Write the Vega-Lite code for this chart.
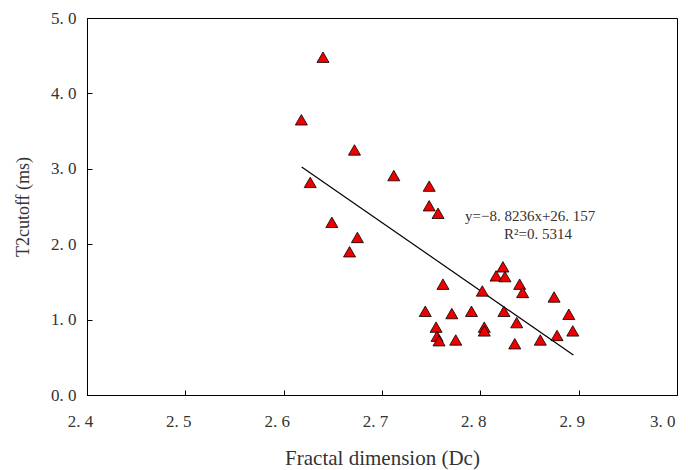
{
  "$schema": "https://vega.github.io/schema/vega-lite/v6.json",
  "width": 590,
  "height": 377,
  "autosize": {"type": "none"},
  "padding": {"left": 87, "top": 18, "right": 13, "bottom": 75},
  "background": "white",
  "config": {
    "view": {"stroke": "#000", "strokeWidth": 1},
    "font": "Liberation Serif",
    "axis": {
      "grid": false,
      "domainColor": "#000",
      "tickColor": "#000",
      "labelFont": "Liberation Serif",
      "titleFont": "Liberation Serif",
      "labelColor": "#333",
      "titleColor": "#333",
      "labelFontSize": 17,
      "titleFontSize": 18,
      "titleFontWeight": "normal"
    }
  },
  "datasets": {
    "pts": [
      {"dc": 2.640, "t2": 4.48},
      {"dc": 2.618, "t2": 3.65},
      {"dc": 2.672, "t2": 3.25},
      {"dc": 2.627, "t2": 2.82},
      {"dc": 2.712, "t2": 2.91},
      {"dc": 2.748, "t2": 2.77},
      {"dc": 2.748, "t2": 2.51},
      {"dc": 2.757, "t2": 2.41},
      {"dc": 2.649, "t2": 2.29},
      {"dc": 2.675, "t2": 2.09},
      {"dc": 2.667, "t2": 1.90},
      {"dc": 2.762, "t2": 1.47},
      {"dc": 2.823, "t2": 1.70},
      {"dc": 2.816, "t2": 1.58},
      {"dc": 2.825, "t2": 1.57},
      {"dc": 2.840, "t2": 1.47},
      {"dc": 2.843, "t2": 1.36},
      {"dc": 2.802, "t2": 1.38},
      {"dc": 2.875, "t2": 1.30},
      {"dc": 2.744, "t2": 1.11},
      {"dc": 2.771, "t2": 1.08},
      {"dc": 2.791, "t2": 1.11},
      {"dc": 2.824, "t2": 1.11},
      {"dc": 2.890, "t2": 1.07},
      {"dc": 2.837, "t2": 0.96},
      {"dc": 2.755, "t2": 0.90},
      {"dc": 2.804, "t2": 0.90},
      {"dc": 2.804, "t2": 0.85},
      {"dc": 2.894, "t2": 0.85},
      {"dc": 2.756, "t2": 0.78},
      {"dc": 2.758, "t2": 0.72},
      {"dc": 2.775, "t2": 0.73},
      {"dc": 2.835, "t2": 0.68},
      {"dc": 2.861, "t2": 0.73},
      {"dc": 2.878, "t2": 0.79}
    ],
    "fit": [
      {"dc": 2.6183, "t2": 3.024},
      {"dc": 2.8946, "t2": 0.530}
    ],
    "notes": [
      {"dc": 2.7844, "t2": 2.374, "label": "y=−8. 8236x+26. 157"},
      {"dc": 2.8241, "t2": 2.135, "label": "R²=0. 5314"}
    ]
  },
  "layer": [
    {
      "data": {"name": "fit"},
      "mark": {"type": "line", "color": "#000", "strokeWidth": 1.2},
      "encoding": {
        "x": {
          "field": "dc", "type": "quantitative",
          "scale": {"domain": [2.4, 3.0], "nice": false, "zero": false},
          "axis": {
            "values": [2.4, 2.5, 2.6, 2.7, 2.8, 2.9, 3.0],
            "labelExpr": "replace(format(datum.value, '.1f'), '.', '. ')",
            "tickSize": -5,
            "labelPadding": 23,
            "labelFlush": false,
            "labelAlign": {"condition": {"test": "datum.value > 2.95", "value": "right"}, "value": "center"},
            "labelOffset": {"condition": {"test": "datum.value > 2.95", "value": -2}, "value": -7},
            "title": "Fractal dimension (Dc)",
            "titleFontSize": 21,
            "titlePadding": 18
          }
        },
        "y": {
          "field": "t2", "type": "quantitative",
          "scale": {"domain": [0, 5], "nice": false},
          "axis": {
            "values": [0, 1, 2, 3, 4, 5],
            "labelExpr": "replace(format(datum.value, '.1f'), '.', '. ')",
            "tickSize": -5,
            "labelPadding": 16,
            "title": "T2cutoff (ms)",
            "titlePadding": 18
          }
        }
      }
    },
    {
      "data": {"name": "pts"},
      "mark": {"type": "point", "shape": "triangle-up", "filled": true, "fill": "#ee0000", "stroke": "#000", "strokeWidth": 0.8, "size": 145, "opacity": 1},
      "encoding": {
        "x": {"field": "dc", "type": "quantitative"},
        "y": {"field": "t2", "type": "quantitative"}
      }
    },
    {
      "data": {"name": "notes"},
      "mark": {"type": "text", "align": "left", "baseline": "middle", "fontSize": 15, "color": "#333", "font": "Liberation Serif"},
      "encoding": {
        "x": {"field": "dc", "type": "quantitative"},
        "y": {"field": "t2", "type": "quantitative"},
        "text": {"field": "label"}
      }
    }
  ]
}
